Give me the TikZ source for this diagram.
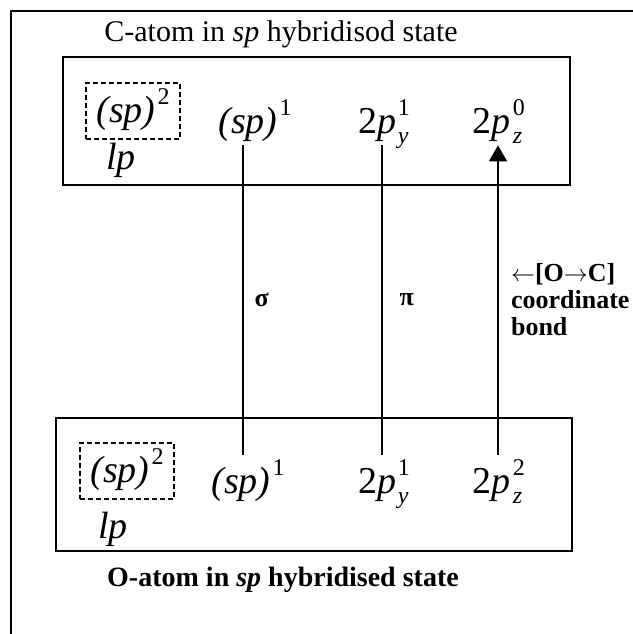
\documentclass[tikz,border=0pt]{standalone}
\usepackage{fontspec}
\setmainfont{Liberation Serif}
\usetikzlibrary{arrows.meta}
\tikzset{
    frame/.style={line width=1pt},
    atombox/.style={draw, line width=1.3pt},
    orb/.style={font=\fontsize{19}{22}\selectfont, anchor=base,
                text height=17pt, text depth=4pt, inner sep=2pt},
    lone/.style={draw, dash pattern=on 2.4pt off 1.6pt, line width=0.9pt,
                 font=\fontsize{19}{22}\selectfont, inner sep=0pt,
                 minimum width=47pt, minimum height=28pt},
    lpair/.style={font=\fontsize{19}{22}\selectfont\itshape, anchor=base},
    bond/.style={line width=0.9pt},
    dative/.style={bond, -{Triangle[length=8pt,width=9pt]}},
    note/.style={font=\fontsize{13}{13.5}\selectfont\bfseries, align=left},
    heading/.style={font=\fontsize{15}{18}\selectfont},
}
% orbital: base, subscript, superscript (stacked, sub under sup)
\newcommand{\orbit}[3]{#1\kern1pt\raisebox{-5pt}{\rlap{\fontsize{12}{12}\selectfont\itshape #2}}\raisebox{9pt}{\fontsize{12}{12}\selectfont #3}}

\begin{document}
\begin{tikzpicture}[x=0.5pt, y=-0.5pt]
    \useasboundingbox (0,0) rectangle (633,634);

    % page frame
    \draw[frame] (633,11) -- (11,11) -- (11,634);

    % carbon
    \node[heading] (ctitle) at (281,34) {C-atom in \textit{sp} hybridisod state};
    \node[atombox, minimum width=253.5pt, minimum height=64pt] (cbox) at (316.5,121) {};
    \node[lone] (clone) at (133,111) {\raisebox{-5pt}{\orbit{\textit{(sp)}}{}{2}}};
    \node[lpair] (clp) at (121,169) {lp};
    \node[orb] (csp) at (255,133) {\orbit{\textit{(sp)}}{}{1}};
    \node[orb] (cpy) at (384,133) {\orbit{2\textit{p}}{y}{1}};
    \node[orb] (cpz) at (499,133) {\orbit{2\textit{p}}{z}{0}};

    % oxygen
    \node[atombox, minimum width=258pt, minimum height=66.5pt] (obox) at (314,484.5) {};
    \node[lone] (olone) at (127,471) {\raisebox{-5pt}{\orbit{\textit{(sp)}}{}{2}}};
    \node[lpair] (olp) at (113,538) {lp};
    \node[orb] (osp) at (248,493) {\orbit{\textit{(sp)}}{}{1}};
    \node[orb] (opy) at (384,493) {\orbit{2\textit{p}}{y}{1}};
    \node[orb] (opz) at (499,493) {\orbit{2\textit{p}}{z}{2}};
    \node[heading, font=\fontsize{14}{17}\selectfont\bfseries] (otitle) at (283,580)
        {O-atom in \textit{sp} hybridised state};

    % bonds
    \draw[bond] ([xshift=-6pt]csp.south) -- node[note, right, pos=0.5, xshift=2pt] {σ} ([xshift=-2.5pt]osp.north);
    \draw[bond] ([xshift=-1pt]cpy.south) -- node[note, right, pos=0.5, xshift=5pt] {π} ([xshift=-1pt]opy.north);
    \draw[dative] ([xshift=-0.5pt]opz.north) -- ([xshift=-0.5pt]cpz.south);
    \node[note, anchor=west] (dlabel) at (504,300) {$\leftarrow$[O$\rightarrow$C]\\coordinate\\bond};

\end{tikzpicture}
\end{document}
